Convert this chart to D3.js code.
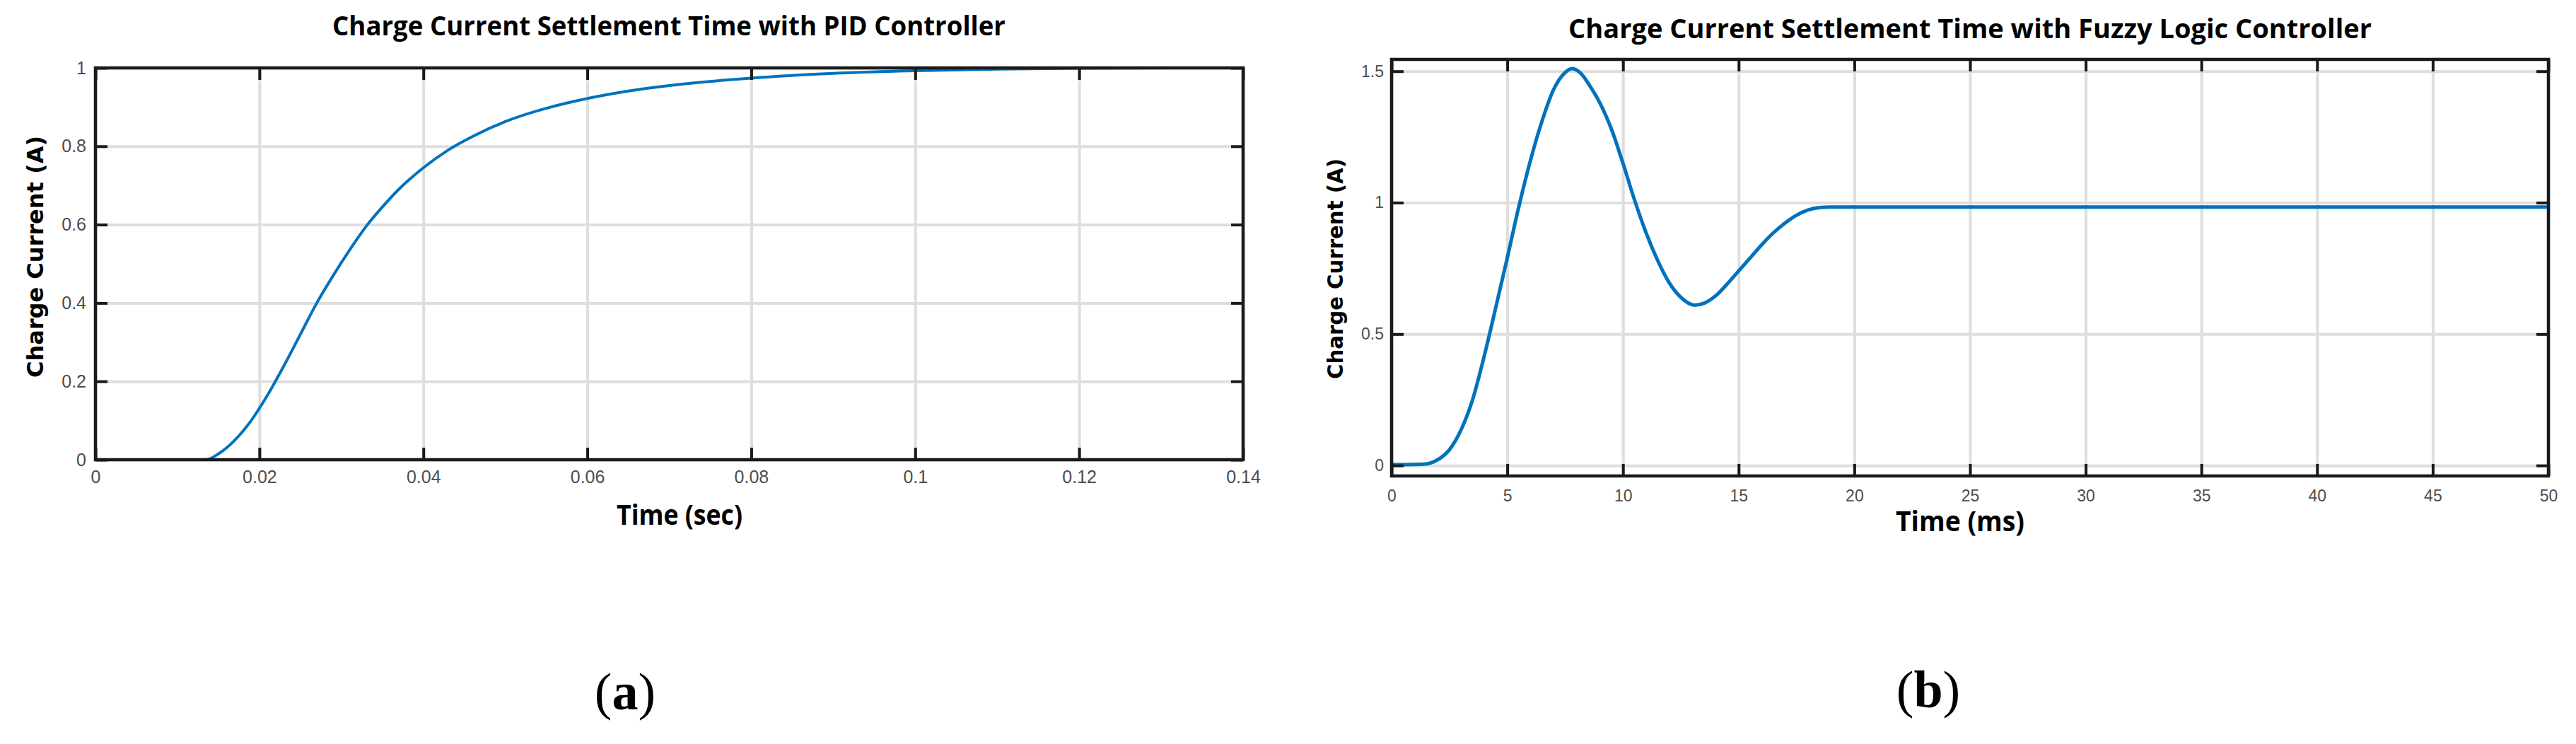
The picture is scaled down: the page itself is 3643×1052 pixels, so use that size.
<!doctype html>
<html>
<head>
<meta charset="UTF-8">
<title>Charge Current Settlement Time</title>
<script src="https://d3js.org/d3.v7.min.js"></script>
<style>
  body { margin: 0; background: #fff; }
  .tick text { fill: #4d4d4d; font-family: "Liberation Sans", Arial, sans-serif; }
</style>
</head>
<body>
<script>
// (a) PID controller, time in sec
var pidTime = [0, 0.0135, 0.015, 0.017, 0.019, 0.021, 0.023, 0.025, 0.027, 0.029, 0.031, 0.033, 0.035, 0.037, 0.04, 0.043, 0.046, 0.05, 0.055, 0.06, 0.065, 0.07, 0.08, 0.09, 0.1, 0.11, 0.12, 0.131];
var pidCurrent = [0, 0, 0.015, 0.05, 0.1, 0.165, 0.24, 0.32, 0.4, 0.47, 0.535, 0.595, 0.645, 0.69, 0.745, 0.79, 0.825, 0.863, 0.897, 0.922, 0.941, 0.955, 0.974, 0.986, 0.993, 0.997, 0.999, 1.0];
var pidXTicks = [0, 0.02, 0.04, 0.06, 0.08, 0.1, 0.12, 0.14];
var pidYTicks = [0, 0.2, 0.4, 0.6, 0.8, 1];

// (b) fuzzy logic controller, time in ms
var fuzzyTime = [0, 1, 1.5, 2, 2.5, 3, 3.5, 4, 4.5, 5, 5.5, 6, 6.5, 7, 7.5, 7.8, 8.2, 8.6, 9, 9.5, 10, 10.5, 11, 11.5, 12, 12.5, 13.1, 13.5, 14, 14.5, 15, 15.5, 16, 16.5, 17, 17.5, 18, 18.5, 19, 20, 50];
var fuzzyCurrent = [0.003, 0.004, 0.006, 0.022, 0.06, 0.135, 0.25, 0.415, 0.6, 0.79, 0.985, 1.16, 1.31, 1.43, 1.495, 1.51, 1.49, 1.44, 1.38, 1.28, 1.15, 1.01, 0.885, 0.78, 0.695, 0.64, 0.61, 0.617, 0.645, 0.69, 0.74, 0.79, 0.84, 0.885, 0.922, 0.952, 0.972, 0.981, 0.983, 0.983, 0.983];
var fuzzyXTicks = [0, 5, 10, 15, 20, 25, 30, 35, 40, 45, 50];
var fuzzyYTicks = [0, 0.5, 1, 1.5];

var W = 3643, H = 1052;
var svg = d3.select("body").append("svg").attr("width", W).attr("height", H);

function panel(o) {
  var x = d3.scaleLinear().domain(o.xDomain).range([o.left, o.right]);
  var y = d3.scaleLinear().domain(o.yDomain).range([o.bottom, o.top]);
  var g = svg.append("g");
  var h = o.bottom - o.top, w = o.right - o.left;

  // grid
  g.append("g").attr("transform", "translate(0," + o.bottom + ")")
    .call(d3.axisBottom(x).tickValues(o.xTicks).tickSize(-h).tickFormat(""))
    .call(s => s.select(".domain").remove())
    .selectAll("line").attr("stroke", "#dedede").attr("stroke-width", 4);
  g.append("g").attr("transform", "translate(" + o.left + ",0)")
    .call(d3.axisLeft(y).tickValues(o.yTicks).tickSize(-w).tickFormat(""))
    .call(s => s.select(".domain").remove())
    .selectAll("line").attr("stroke", "#dedede").attr("stroke-width", 4);

  // curve
  var line = d3.line().x(d => x(d[0])).y(d => y(d[1])).curve(d3.curveMonotoneX);
  g.append("path").datum(d3.zip(o.xs, o.ys))
    .attr("d", line).attr("fill", "none")
    .attr("stroke", "#0072BD").attr("stroke-width", o.lw);

  // frame
  g.append("rect").attr("x", o.left).attr("y", o.top).attr("width", w).attr("height", h)
    .attr("fill", "none").attr("stroke", "#1a1a1a").attr("stroke-width", 4.5);

  // ticks + labels
  var fmt = d => String(+d.toFixed(4));
  var bx = g.append("g").attr("transform", "translate(0," + o.bottom + ")")
    .call(d3.axisBottom(x).tickValues(o.xTicks).tickSize(-17).tickPadding(o.xPad).tickFormat(fmt));
  var ly = g.append("g").attr("transform", "translate(" + o.left + ",0)")
    .call(d3.axisLeft(y).tickValues(o.yTicks).tickSize(-17).tickPadding(o.yPad).tickFormat(fmt));
  var tx = g.append("g").attr("transform", "translate(0," + o.top + ")")
    .call(d3.axisTop(x).tickValues(o.xTicks).tickSize(-17).tickFormat(""));
  var ry = g.append("g").attr("transform", "translate(" + o.right + ",0)")
    .call(d3.axisRight(y).tickValues(o.yTicks).tickSize(-17).tickFormat(""));
  [bx, ly, tx, ry].forEach(a => {
    a.select(".domain").remove();
    a.selectAll("line").attr("stroke", "#1a1a1a").attr("stroke-width", 4);
    a.selectAll("text").attr("font-size", o.tickFont);
  });

  // title
  svg.append("text").attr("x", o.titleX).attr("y", o.titleY)
    .attr("text-anchor", "middle").attr("font-family", "'Open Sans', sans-serif")
    .attr("font-weight", "bold").attr("font-size", 38)
    .attr("textLength", o.titleLen).attr("lengthAdjust", "spacingAndGlyphs")
    .text(o.title);
  // x label
  svg.append("text").attr("x", o.xlabX).attr("y", o.xlabY)
    .attr("text-anchor", "middle").attr("font-family", "'Open Sans', sans-serif")
    .attr("font-weight", "bold").attr("font-size", 40)
    .attr("textLength", o.xlabLen).attr("lengthAdjust", "spacingAndGlyphs")
    .text(o.xlab);
  // y label
  svg.append("text").attr("transform", "translate(" + o.ylabX + "," + o.ylabY + ") rotate(-90)")
    .attr("text-anchor", "middle").attr("dominant-baseline", "central")
    .attr("font-family", "'DejaVu Sans', sans-serif")
    .attr("font-weight", "bold").attr("font-size", o.ylabFont)
    .attr("textLength", o.ylabLen).attr("lengthAdjust", "spacingAndGlyphs")
    .text("Charge Current (A)");
  // caption
  var cap = svg.append("text").attr("x", o.capX).attr("y", o.capY)
    .attr("text-anchor", "middle").attr("font-family", "'Liberation Serif', 'Times New Roman', serif")
    .attr("font-size", 74);
  cap.append("tspan").text("(");
  cap.append("tspan").attr("font-weight", "bold").text(o.cap);
  cap.append("tspan").text(")");
}

panel({
  xDomain: [0, 0.14], yDomain: [0, 1],
  left: 135, right: 1758, top: 96, bottom: 650,
  xs: pidTime, ys: pidCurrent, xTicks: pidXTicks, yTicks: pidYTicks,
  lw: 4, tickFont: 25, xPad: 15, yPad: 13,
  title: "Charge Current Settlement Time with PID Controller", titleX: 946, titleY: 50, titleLen: 952,
  xlab: "Time (sec)", xlabX: 961, xlabY: 742, xlabLen: 178,
  ylabX: 50, ylabY: 363, ylabLen: 342, ylabFont: 32,
  cap: "a", capX: 884, capY: 1003
});

panel({
  xDomain: [0, 50], yDomain: [-0.04, 1.545],
  left: 1968, right: 3604, top: 84, bottom: 673,
  xs: fuzzyTime, ys: fuzzyCurrent, xTicks: fuzzyXTicks, yTicks: fuzzyYTicks,
  lw: 5, tickFont: 23, xPad: 20, yPad: 11,
  title: "Charge Current Settlement Time with Fuzzy Logic Controller", titleX: 2786, titleY: 54, titleLen: 1136,
  xlab: "Time (ms)", xlabX: 2772, xlabY: 751, xlabLen: 182,
  ylabX: 1888, ylabY: 380, ylabLen: 312, ylabFont: 30,
  cap: "b", capX: 2727, capY: 1000
});
</script>
</body>
</html>
